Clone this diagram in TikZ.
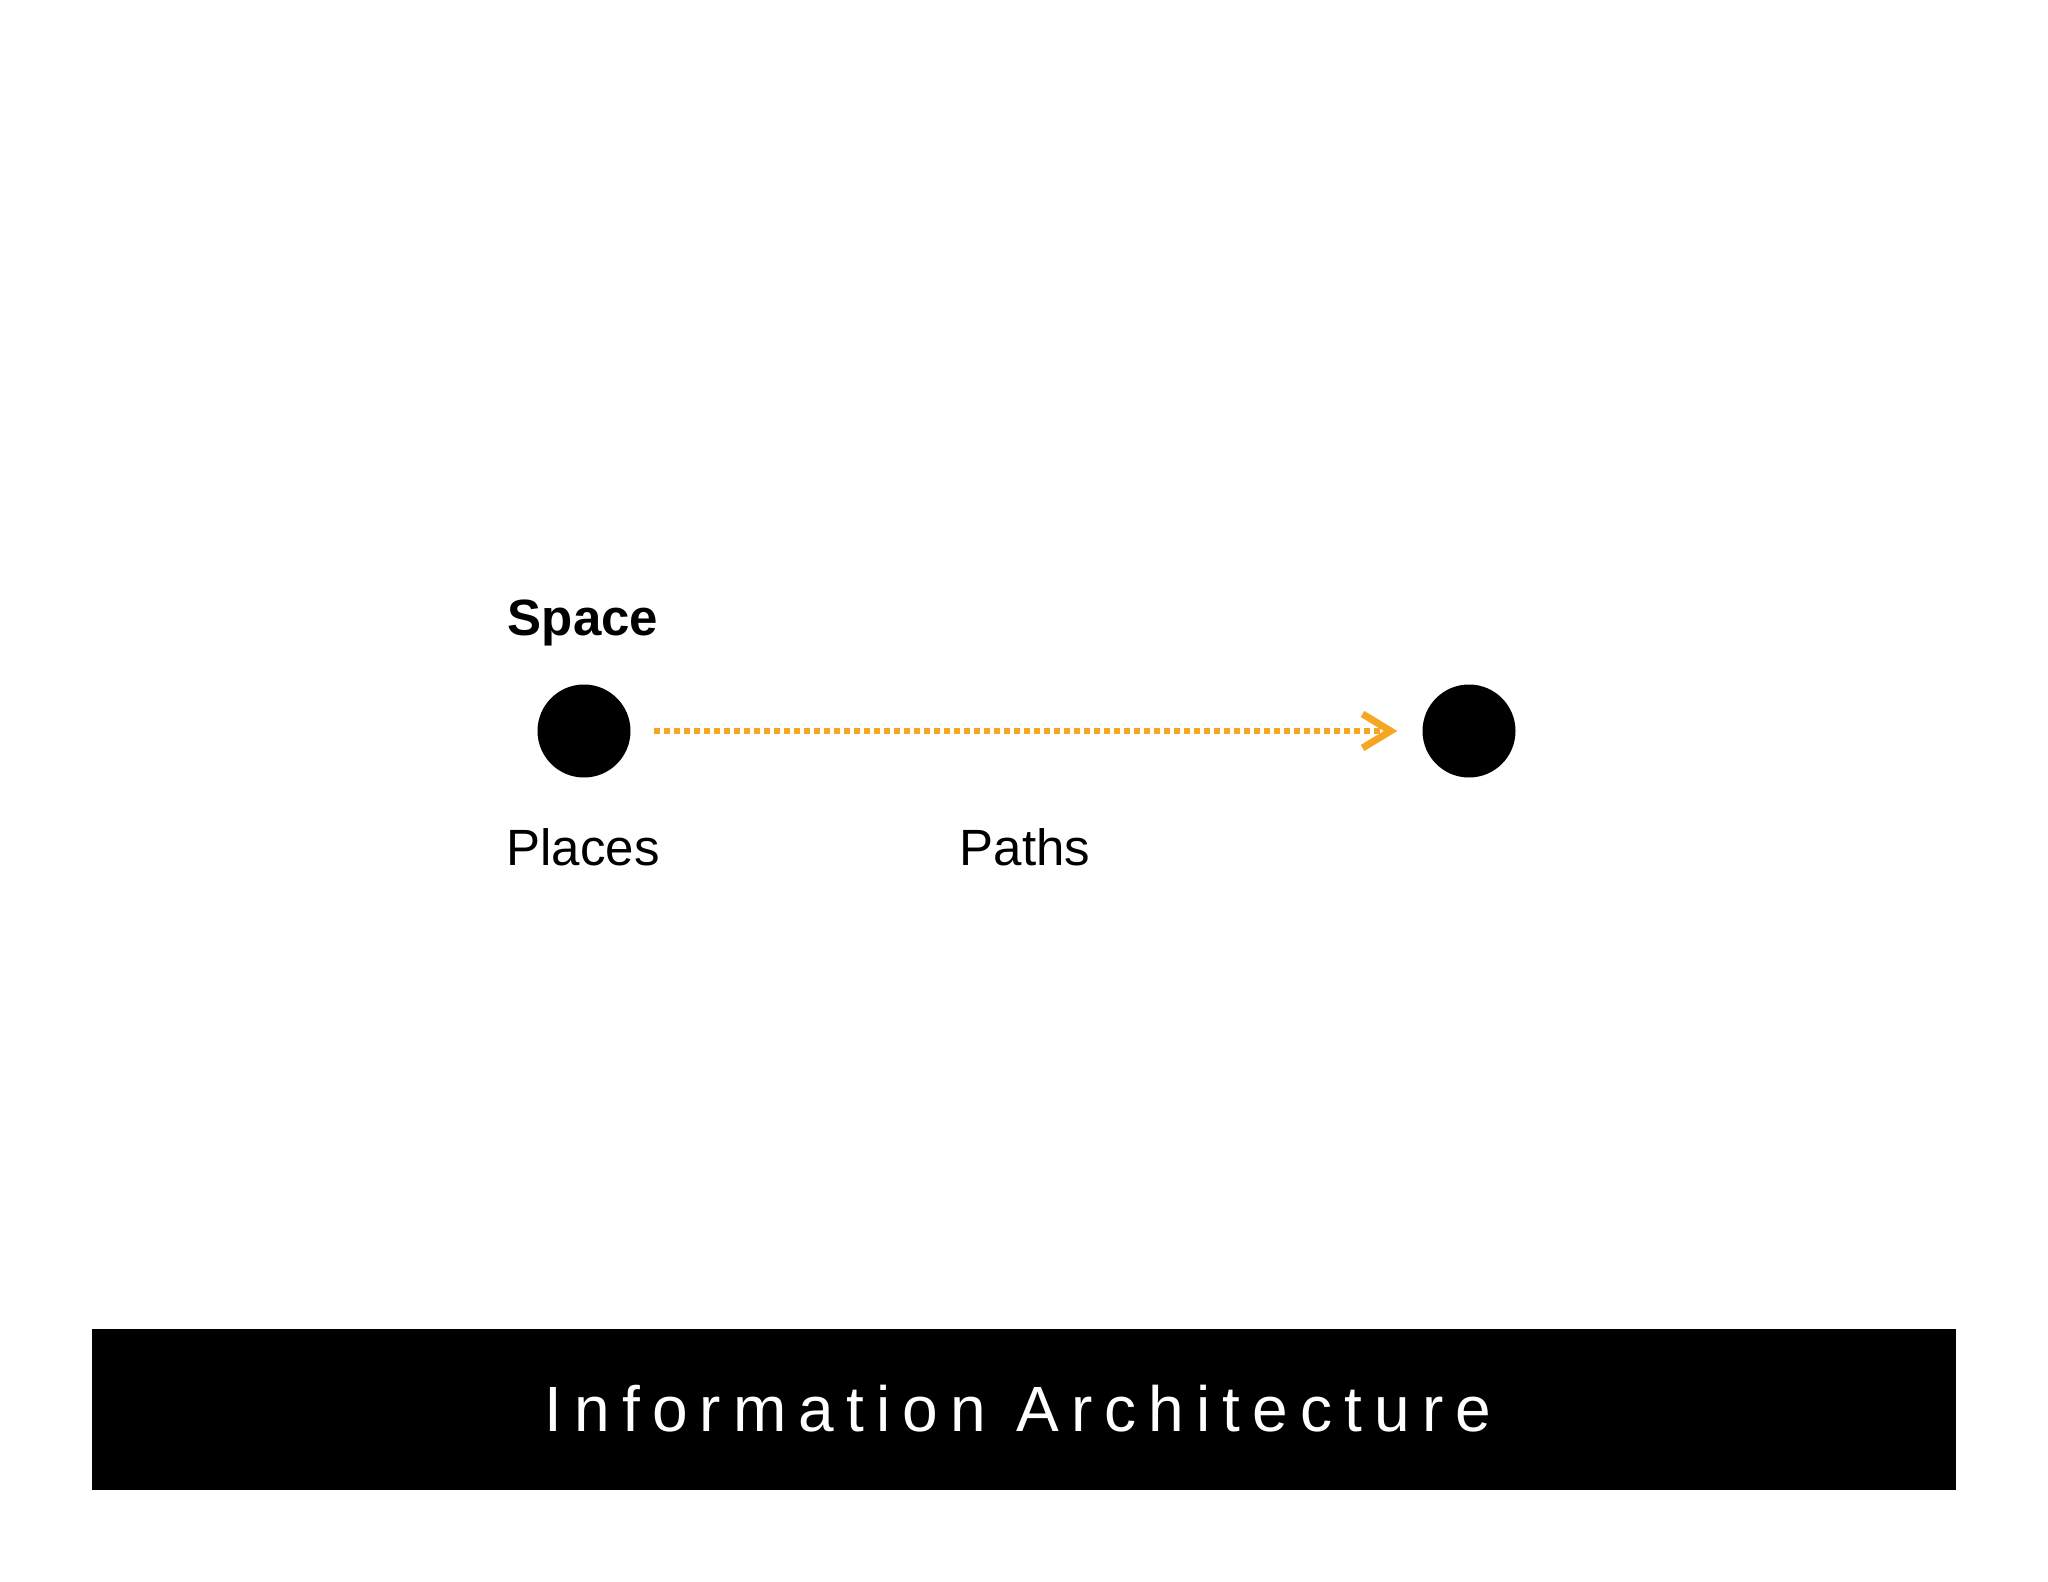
\documentclass[tikz,border=0pt]{standalone}
\usepackage{fontspec}
\setmainfont{Liberation Sans}
\newfontfamily\barfont[LetterSpace=19]{Liberation Sans}
\usetikzlibrary{arrows.meta}
\definecolor{arroworange}{RGB}{245,166,35}
\tikzset{
  place/.style={circle, fill=black, minimum size=93pt, inner sep=0pt},
  lbl/.style={anchor=base, inner sep=0pt, font=\fontsize{51}{60}\selectfont},
  pathline/.style={draw=arroworange, line width=6pt, dash pattern=on 6pt off 4pt,
    -{Straight Barb[length=28pt, width=34pt, line width=7pt]}, shorten <=23pt, shorten >=25pt},
  barbox/.style={fill=black, draw=none}
}
\begin{document}
\begin{tikzpicture}[x=1pt, y=-1pt]
\useasboundingbox (0,0) rectangle (2048,1582);
\fill[white] (0,0) rectangle (2048,1582);
\node[place] (L) at (584,731) {};
\node[place] (R) at (1469,731) {};
\draw[pathline] (L) -- (R);
\node[lbl, font=\fontsize{51}{60}\selectfont\bfseries] (space) at (583,635) {Space};
\node[lbl] (places) at (583,865) {Places};
\node[lbl] (paths) at (1025,865) {Paths};
\fill[barbox] (92,1329) rectangle (1956,1490);
\node[anchor=base, inner sep=0pt, text=white, font=\barfont\fontsize{64}{70}\selectfont] (title) at (1018,1431) {Information Architecture};
\end{tikzpicture}
\end{document}
